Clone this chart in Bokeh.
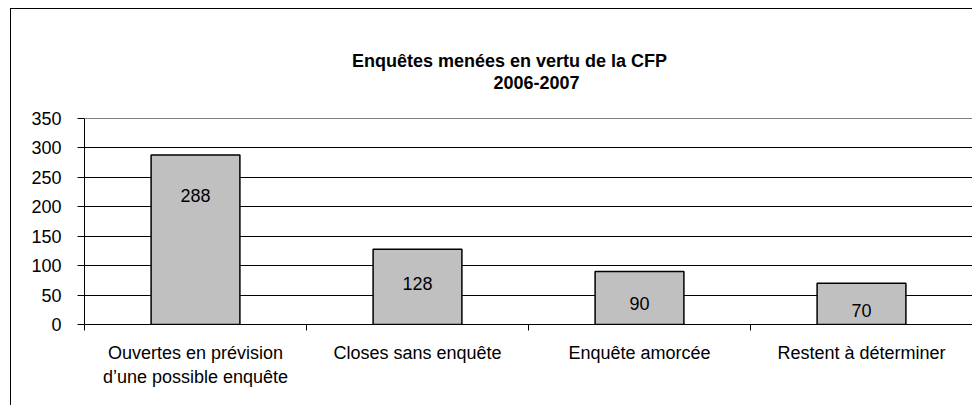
from bokeh.plotting import figure
from bokeh.models import FixedTicker, Range1d
from bokeh.core.properties import value
from bokeh.embed import file_html
from bokeh.resources import INLINE

# ---- data ----
categories = [
    "Ouvertes en prévision\nd’une possible enquête",
    "Closes sans enquête",
    "Enquête amorcée",
    "Restent à déterminer",
]
counts = [288, 128, 90, 70]
y_ticks = [0, 50, 100, 150, 200, 250, 300, 350]
title_lines = ["Enquêtes menées en vertu de la CFP", "2006-2007"]

# ---- style / layout (pixels) ----
FONT = "Liberation Sans"
FS = "18px"
label_offsets_px = [41, 34, 32, 27]
AXIS_PX = 206        # height of the 0..350 value area
TOP_PX = 109         # space above the 350 line (title area)
FRAME_W_PX = 888     # width of the plot area
title_center_px = [425, 452]   # x of each title line, from the left of the plot area
title_above_px = [58, 36]      # height of each title line above the 350 line

n = len(categories)
ymax_val = y_ticks[-1]
ytop = ymax_val * (1 + TOP_PX / AXIS_PX)
centers = [i + 0.5 for i in range(n)]
bounds = list(range(n + 1))

W, H = 962, 397
p = figure(width=W, height=H, output_backend="svg", toolbar_location=None,
           x_range=Range1d(0, n), y_range=Range1d(y_ticks[0], ytop),
           min_border_left=73, min_border_right=1, min_border_top=0,
           min_border_bottom=82)
p.title = None
p.styles = {"border-left": "1px solid black", "border-top": "1px solid black",
            "margin-left": "10px", "margin-top": "8px"}
p.background_fill_color = "white"
p.border_fill_color = "white"
p.outline_line_color = None

# grid
p.xgrid.visible = False
p.ygrid.ticker = FixedTicker(ticks=y_ticks[1:-1])
p.ygrid.grid_line_color = "black"
p.ygrid.grid_line_width = 1

# plot-area border (grey top and right)
p.segment(x0=[0, n], y0=[ymax_val, 0], x1=[n, n], y1=[ymax_val, ymax_val],
          line_color="#808080", line_width=1)

# x axis
xa = p.xaxis[0]
xa.ticker = FixedTicker(ticks=centers, minor_ticks=bounds)
xa.major_label_overrides = {c: t for c, t in zip(centers, categories)}
xa.major_tick_out = 0
xa.major_tick_in = 0
xa.minor_tick_out = 6
xa.minor_tick_in = 0
xa.minor_tick_line_color = "black"
xa.axis_line_color = "black"
xa.major_label_standoff = 12
xa.major_label_text_font = FONT
xa.major_label_text_font_size = FS
xa.major_label_text_color = "black"

# y axis
ya = p.yaxis[0]
ya.ticker = FixedTicker(ticks=y_ticks)
ya.bounds = (y_ticks[0], ymax_val)
ya.major_tick_out = 7
ya.major_tick_in = 0
ya.minor_tick_line_color = None
ya.axis_line_color = "black"
ya.major_label_standoff = 16
ya.major_label_text_font = FONT
ya.major_label_text_font_size = FS
ya.major_label_text_color = "black"

# bars
p.vbar(x=centers, top=counts, width=0.4, fill_color="#C0C0C0",
       line_color="black", line_width=1.5)

# value labels
p.text(x=centers, y=counts, text=[str(c) for c in counts], y_offset=label_offsets_px,
       text_align="center", text_baseline="middle", text_font=value(FONT),
       text_font_size=value(FS), text_color="black")

# title (two lines)
tx = [c / FRAME_W_PX * n for c in title_center_px]
ty = [ymax_val + a * ymax_val / AXIS_PX for a in title_above_px]
p.text(x=tx, y=ty, text=title_lines, text_align="center", text_baseline="middle",
       text_font=value(FONT), text_font_size=value(FS), text_font_style="bold",
       text_color="black")

open("out.html", "w").write(file_html(p, INLINE))
